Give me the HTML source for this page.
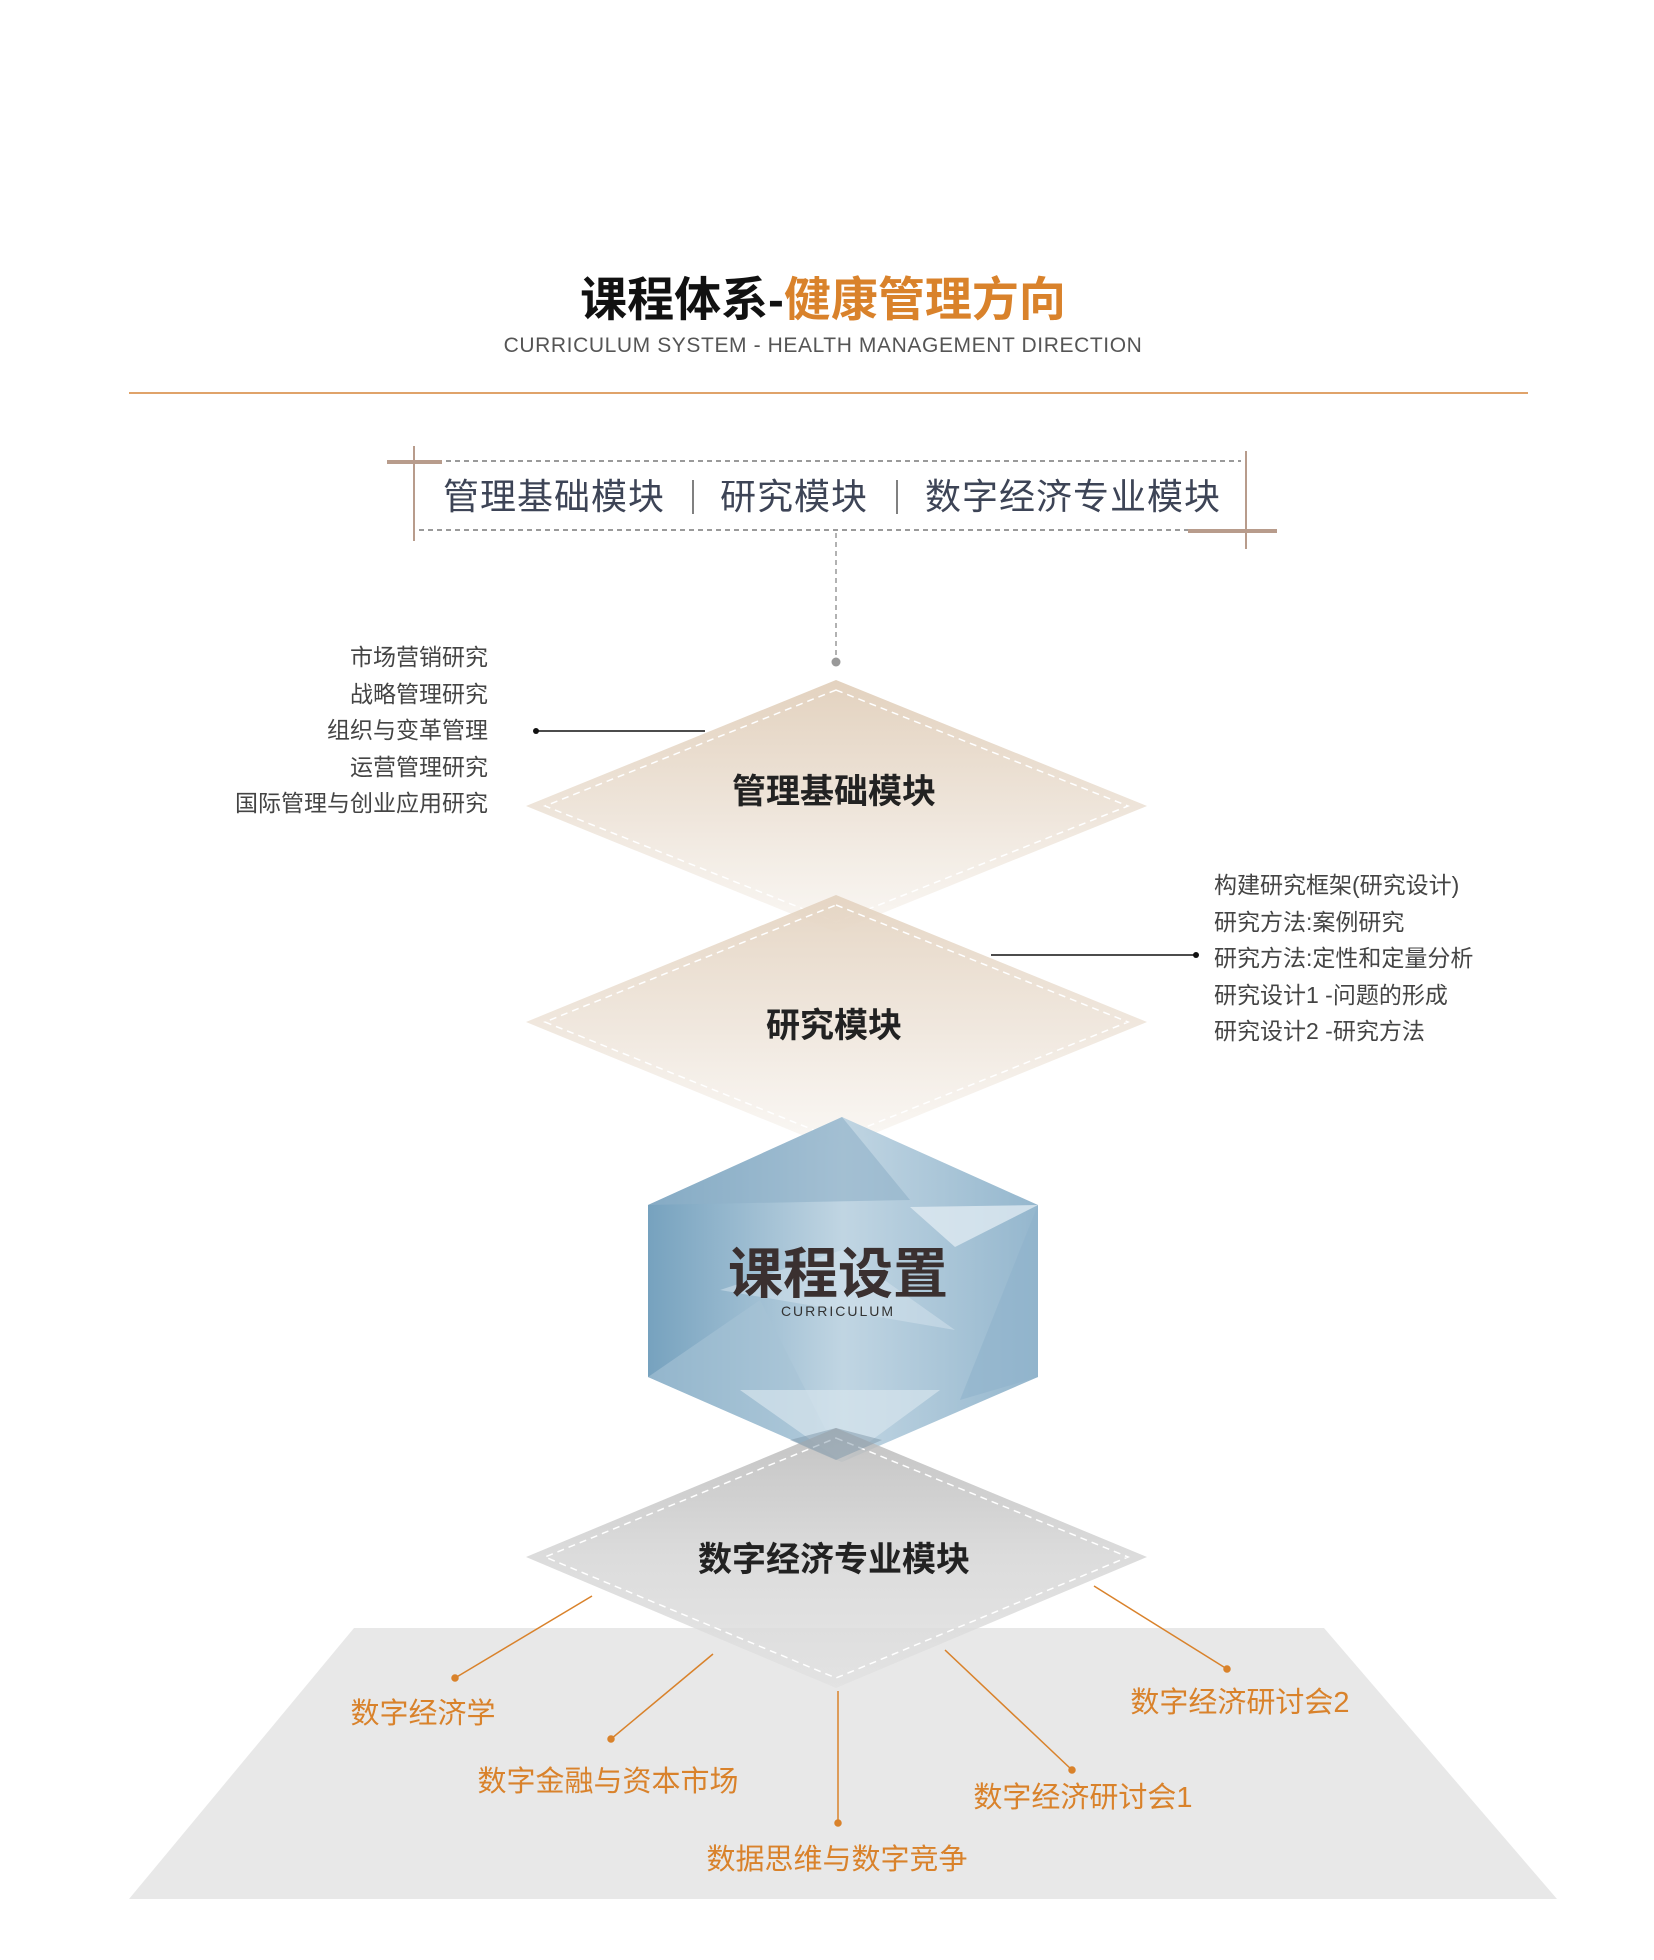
<!DOCTYPE html>
<html><head><meta charset="utf-8"><style>
body{margin:0;background:#fff}
svg{display:block}
text{font-family:"Liberation Sans","Noto Sans CJK SC",sans-serif}
</style></head><body>
<svg width="1654" height="1960" viewBox="0 0 1654 1960" xmlns="http://www.w3.org/2000/svg">
<defs>
<linearGradient id="tan" x1="0" y1="0" x2="0" y2="1">
<stop offset="0" stop-color="#e3d2bf"/><stop offset="0.55" stop-color="#efe6dc"/><stop offset="1" stop-color="#f7f3ee" stop-opacity="0.7"/>
</linearGradient>
<linearGradient id="gry" x1="0" y1="0" x2="0" y2="1">
<stop offset="0" stop-color="#b9b9b9"/><stop offset="0.5" stop-color="#d6d6d6"/><stop offset="1" stop-color="#e2e2e2"/>
</linearGradient>
<linearGradient id="blu" x1="0" y1="0" x2="1" y2="0">
<stop offset="0" stop-color="#6f9dbb"/><stop offset="0.5" stop-color="#bdd3e1"/><stop offset="1" stop-color="#8fb3cb"/>
</linearGradient>
</defs>

<text x="823" y="316" text-anchor="middle" font-size="47" font-weight="bold" font-family="'Noto Serif CJK SC',serif"><tspan fill="#111">课程体系-</tspan><tspan fill="#d9822b">健康管理方向</tspan></text>
<text x="823" y="352" text-anchor="middle" font-size="21" fill="#555" letter-spacing="0.6">CURRICULUM SYSTEM - HEALTH MANAGEMENT DIRECTION</text>
<line x1="129" y1="393" x2="1528" y2="393" stroke="#e0a36a" stroke-width="2"/>

<!-- box -->
<line x1="419" y1="461" x2="1241" y2="461" stroke="#9a9a9a" stroke-width="2" stroke-dasharray="5,4"/>
<line x1="419" y1="530" x2="1241" y2="530" stroke="#9a9a9a" stroke-width="2" stroke-dasharray="5,4"/>
<line x1="414" y1="446" x2="414" y2="541" stroke="#b89c8c" stroke-width="2"/>
<line x1="387" y1="462" x2="442" y2="462" stroke="#b89c8c" stroke-width="4"/>
<line x1="1246" y1="451" x2="1246" y2="549" stroke="#b89c8c" stroke-width="2"/>
<line x1="1188" y1="531" x2="1277" y2="531" stroke="#b89c8c" stroke-width="4"/>
<text x="443" y="509" font-size="36" fill="#3d4456" letter-spacing="1">管理基础模块</text>
<line x1="693" y1="480" x2="693" y2="514" stroke="#555" stroke-width="1.5"/>
<text x="720" y="509" font-size="36" fill="#3d4456" letter-spacing="1">研究模块</text>
<line x1="897" y1="480" x2="897" y2="514" stroke="#555" stroke-width="1.5"/>
<text x="925" y="509" font-size="36" fill="#3d4456" letter-spacing="1">数字经济专业模块</text>
<line x1="836" y1="533" x2="836" y2="656" stroke="#999" stroke-width="1.5" stroke-dasharray="5,4"/>
<circle cx="836" cy="662" r="4.5" fill="#999"/>

<!-- diamonds -->
<polygon points="836,680 1147,806 836,932 526,806" fill="url(#tan)"/>
<polygon points="836,690 1128,806 836,922 545,806" fill="none" stroke="#fff" stroke-width="1.5" stroke-dasharray="7,5"/>
<polygon points="836,895 1147,1022 836,1149 526,1022" fill="url(#tan)" opacity="0.9"/>
<polygon points="836,905 1128,1022 836,1139 545,1022" fill="none" stroke="#fff" stroke-width="1.5" stroke-dasharray="7,5"/>
<text x="834" y="803" text-anchor="middle" font-size="34" font-weight="bold" fill="#222">管理基础模块</text>
<text x="834" y="1037" text-anchor="middle" font-size="34" font-weight="bold" fill="#222">研究模块</text>

<!-- hexagon -->
<polygon points="842,1117 1038,1205 1038,1377 842,1462 648,1377 648,1205" fill="url(#blu)" opacity="0.95"/>
<polygon points="648,1205 842,1117 910,1200" fill="#8fb1c8" opacity="0.6"/>
<polygon points="910,1207 1038,1205 955,1247" fill="#dfeaf1" opacity="0.8"/>
<polygon points="648,1377 760,1300 842,1462" fill="#a7c3d6" opacity="0.6"/>
<polygon points="740,1390 940,1390 842,1462" fill="#d6e4ed" opacity="0.7"/>
<polygon points="720,1290 955,1330 842,1250" fill="#d6e4ed" opacity="0.5"/>
<polygon points="1038,1205 960,1400 1038,1377" fill="#8fb3cb" opacity="0.6"/>
<text x="838" y="1293" text-anchor="middle" font-size="55" font-weight="bold" fill="#3a3030">课程设置</text>
<text x="838" y="1316" text-anchor="middle" font-size="14" fill="#333" letter-spacing="2">CURRICULUM</text>

<!-- gray -->
<polygon points="354,1628 1324,1628 1557,1899 129,1899" fill="#e8e8e8"/>
<polygon points="836,1428 1147,1557 836,1688 526,1557" fill="url(#gry)" opacity="0.85"/>
<polygon points="836,1438 1128,1557 836,1678 545,1557" fill="none" stroke="#fff" stroke-width="1.5" stroke-dasharray="7,5"/>
<polygon points="790,1440 836,1428 882,1440 836,1460" fill="#7f98aa" opacity="0.5"/>
<text x="834" y="1571" text-anchor="middle" font-size="34" font-weight="bold" fill="#222">数字经济专业模块</text>

<!-- left list -->
<g font-size="23" fill="#444" text-anchor="end">
<text x="488" y="665">市场营销研究</text>
<text x="488" y="702">战略管理研究</text>
<text x="488" y="738">组织与变革管理</text>
<text x="488" y="775">运营管理研究</text>
<text x="488" y="811">国际管理与创业应用研究</text>
</g>
<line x1="536" y1="731" x2="705" y2="731" stroke="#111" stroke-width="1.5"/>
<circle cx="536" cy="731" r="3" fill="#111"/>
<g font-size="23" fill="#444">
<text x="1214" y="893">构建研究框架(研究设计)</text>
<text x="1214" y="930">研究方法:案例研究</text>
<text x="1214" y="966">研究方法:定性和定量分析</text>
<text x="1214" y="1003">研究设计1 -问题的形成</text>
<text x="1214" y="1039">研究设计2 -研究方法</text>
</g>
<line x1="991" y1="955" x2="1196" y2="955" stroke="#111" stroke-width="1.5"/>
<circle cx="1196" cy="955" r="3" fill="#111"/>

<!-- orange -->
<g stroke="#d9822b" stroke-width="1.5" fill="#d9822b">
<line x1="592" y1="1596" x2="455" y2="1678"/><circle cx="455" cy="1678" r="3"/>
<line x1="713" y1="1654" x2="611" y2="1739"/><circle cx="611" cy="1739" r="3"/>
<line x1="838" y1="1691" x2="838" y2="1823"/><circle cx="838" cy="1823" r="3"/>
<line x1="945" y1="1650" x2="1072" y2="1770"/><circle cx="1072" cy="1770" r="3"/>
<line x1="1094" y1="1586" x2="1227" y2="1669"/><circle cx="1227" cy="1669" r="3"/>
</g>
<g font-size="29" fill="#d9822b" text-anchor="middle">
<text x="423" y="1723">数字经济学</text>
<text x="608" y="1791">数字金融与资本市场</text>
<text x="837" y="1869">数据思维与数字竞争</text>
<text x="1083" y="1807">数字经济研讨会1</text>
<text x="1240" y="1712">数字经济研讨会2</text>
</g>
</svg>
</body></html>
